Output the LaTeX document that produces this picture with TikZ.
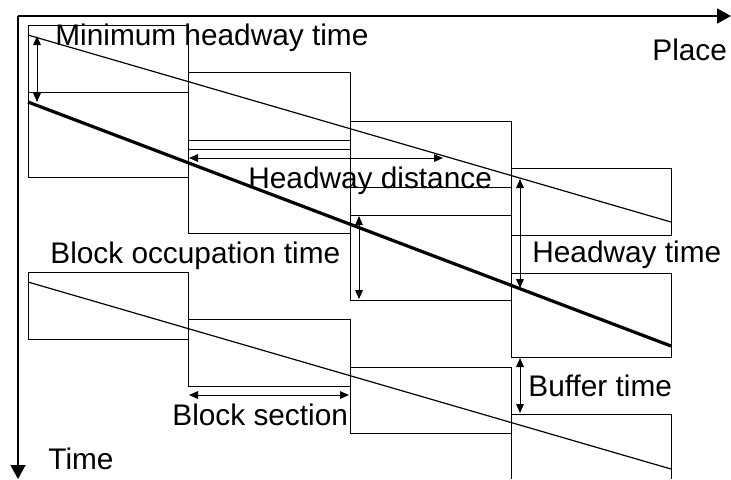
\documentclass[tikz,border=0pt]{standalone}
\usepackage{fontspec}
\setmainfont{Liberation Sans}
\usetikzlibrary{arrows.meta,positioning}
\tikzset{%
	axisline/.style = {line width=0.7pt, -{Triangle[length=7pt,width=7.5pt]}}, % Axes
	blockbox/.style = {draw, line width=0.5pt}, % Block occupation
	train/.style    = {line width=0.6pt}, % Train path
	leadtrain/.style= {line width=1.6pt}, % Thick train path
	dimline/.style  = {line width=0.5pt, {Triangle[length=4.5pt,width=3.8pt]}-{Triangle[length=4.5pt,width=3.8pt]}},
	txt/.style      = {inner sep=0pt, anchor=base west, font=\fontsize{14.9pt}{18pt}\selectfont},
}

\begin{document}
\begin{tikzpicture}[x=0.5pt,y=-0.5pt]
	\useasboundingbox (0,0) rectangle (731,479);
	% axes
	\coordinate (o) at (18,16);
	\coordinate (place) at (731,16);
	\coordinate (time) at (18,479);
	\draw[axisline] (o) -- (place);
	\draw[axisline] (o) -- (time);

	% first train
	\draw[blockbox] (28,25) rectangle (188,92);
	\draw[blockbox] (188,72) rectangle (350,140);
	\draw[blockbox] (350,121) rectangle (511,187);
	\draw[blockbox] (511,168) rectangle (671,235);
	\coordinate (a1) at (28,35);
	\coordinate (a2) at (671,222);
	\draw[train] (a1) -- (a2);

	% second train
	\draw[blockbox] (28,92) rectangle (188,177);
	\draw[blockbox] (188,149) rectangle (350,233);
	\draw[blockbox] (350,215) rectangle (511,300);
	\draw[blockbox] (511,273) rectangle (671,357);
	\coordinate (b1) at (28,102);
	\coordinate (b2) at (671,346);
	\draw[leadtrain] (b1) -- (b2);

	% third train
	\draw[blockbox] (28,272) rectangle (188,339);
	\draw[blockbox] (188,319) rectangle (350,386);
	\draw[blockbox] (350,367) rectangle (511,433);
	\draw[blockbox] (511,479) |- (671,414) -- (671,479);
	\coordinate (c1) at (28,282);
	\coordinate (c2) at (671,469);
	\draw[train] (c1) -- (c2);

	% dimensions
	\coordinate (mh1) at (37,36);
	\coordinate (mh2) at (37,102);
	\draw[dimline] (mh1) -- (mh2);
	\coordinate (hd1) at (189,158);
	\coordinate (hd2) at (443,158);
	\draw[dimline] (hd1) -- (hd2);
	\coordinate (bo1) at (359,216);
	\coordinate (bo2) at (359,299);
	\draw[dimline] (bo1) -- (bo2);
	\coordinate (ht1) at (520,179);
	\coordinate (ht2) at (520,288);
	\draw[dimline] (ht1) -- (ht2);
	\coordinate (bt1) at (520,358);
	\coordinate (bt2) at (520,413);
	\draw[dimline] (bt1) -- (bt2);
	\coordinate (bs1) at (189,395);
	\coordinate (bs2) at (349,395);
	\draw[dimline] (bs1) -- (bs2);

	% labels
	\node[txt] (minhw) at (55,45) {Minimum headway time};
	\node[txt] (plc) at (652,60) {Place};
	\node[txt] (hwdist) at (248,188) {Headway distance};
	\node[txt] (occ) at (50,263) {Block occupation time};
	\node[txt] (hwtime) at (532,262) {Headway time};
	\node[txt] (buf) at (528,396) {Buffer time};
	\node[txt] (sect) at (172,425) {Block section};
	\node[txt] (tm) at (48,469) {Time};
\end{tikzpicture}
\end{document}
